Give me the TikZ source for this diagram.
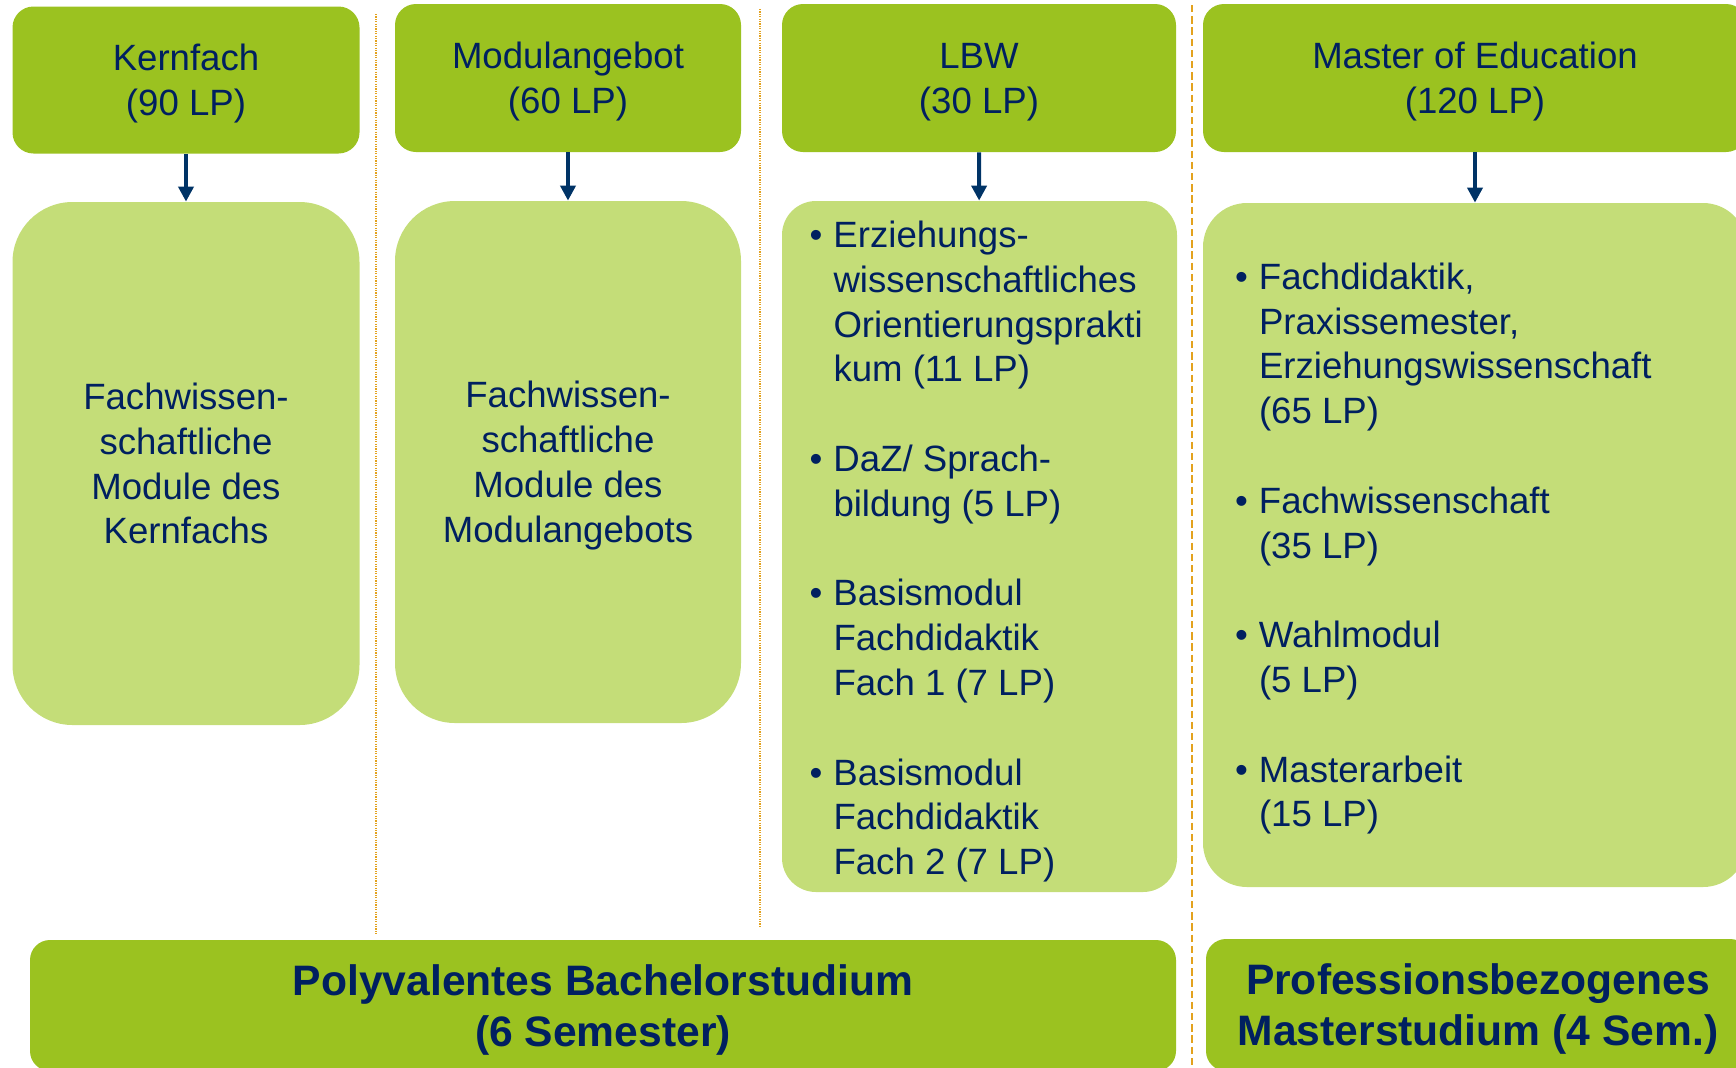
\documentclass[tikz,border=0pt]{standalone}
\usepackage{fontspec}
\setmainfont{Liberation Sans}
\usetikzlibrary{arrows.meta}
\definecolor{kgreen}{RGB}{155,194,32}
\definecolor{lgreen}{RGB}{196,221,120}
\definecolor{navy}{RGB}{0,32,96}
\definecolor{arrownavy}{RGB}{0,51,102}
\definecolor{sepor}{RGB}{227,162,30}
\newcommand{\bul}{\makebox[12pt][l]{\textbullet}}
\newcommand{\ind}{\hspace*{12pt}}
\newcommand{\txtsize}{\fontsize{18.3}{22.4}\selectfont}
\newcommand{\boldsize}{\fontsize{21.3}{25.5}\selectfont\bfseries}

\begin{document}
\begin{tikzpicture}[x=0.5pt,y=0.5pt,yscale=-1,xscale=1,
    headbox/.style={fill=kgreen, rounded corners=10.5pt, text=navy, font=\txtsize, align=center, inner sep=0pt, text height=35.5pt, text depth=0pt},
    modbox/.style={fill=lgreen, text=navy, font=\txtsize, inner sep=0pt},
    footbox/.style={fill=kgreen, rounded corners=10pt, text=navy, font=\boldsize, align=center, inner sep=0pt, text height=40.75pt, text depth=0pt},
    flow/.style={draw=arrownavy, line width=2pt, -{Triangle[width=7.5pt,length=7.5pt]}},
    sepdot/.style={draw=sepor, line width=0.75pt, dash pattern=on 0.6pt off 0.6pt},
    sepdash/.style={draw=sepor, line width=1.3pt, dash pattern=on 3.7pt off 1.9pt}]
\useasboundingbox (0,0) rectangle (1736,1067);
\clip (0,0) rectangle (1736,1067);
%Separators
\draw [sepdot] (376,14) -- (376,935);
\draw [sepdot] (760,9) -- (760,928);
\draw [sepdash] (1192,5) -- (1192,1067);
%Head boxes
\node [headbox, minimum width=173.5pt, minimum height=73.5pt] (kern) at (186,80) {Kernfach\\(90 LP)};
\node [headbox, minimum width=173pt, minimum height=74pt] (modul) at (568,78) {Modulangebot\\(60 LP)};
\node [headbox, minimum width=197pt, minimum height=74pt] (lbw) at (979,78) {LBW\\(30 LP)};
\node [headbox, minimum width=272pt, minimum height=74pt] (master) at (1475,78) {Master of Education\\(120 LP)};
%Module boxes
\node [modbox, rounded corners=30pt, align=center, text height=80.3pt, text depth=0pt, minimum width=173.5pt, minimum height=261.5pt] (kernmods) at (186,463.5) {Fachwissen-\\schaftliche\\Module des\\Kernfachs};
\node [modbox, rounded corners=30pt, align=center, text height=80.3pt, text depth=0pt, minimum width=173pt, minimum height=261pt] (modulmods) at (568,462) {Fachwissen-\\schaftliche\\Module des\\Modulangebots};
\node [modbox, rounded corners=17pt, align=flush left, text width=170pt, text height=14.5pt, text depth=313.6pt, minimum width=197.5pt, minimum height=345.5pt] (lbwmods) at (979.5,546.5)
  {\bul Erziehungs-\\\ind wissenschaftliches\\\ind Orientierungsprakti\\\ind kum (11 LP)\\[22.4pt]%
   \bul DaZ/ Sprach-\\\ind bildung (5 LP)\\[22.4pt]%
   \bul Basismodul\\\ind Fachdidaktik\\\ind Fach 1 (7 LP)\\[22.4pt]%
   \bul Basismodul\\\ind Fachdidaktik\\\ind Fach 2 (7 LP)};
\node [modbox, rounded corners=22pt, align=flush left, text width=240pt, text height=13.1pt, text depth=268.8pt, minimum width=272pt, minimum height=342pt] (mastermods) at (1475,545)
  {\bul Fachdidaktik,\\\ind Praxissemester,\\\ind Erziehungswissenschaft\\\ind (65 LP)\\[22.4pt]%
   \bul Fachwissenschaft\\\ind (35 LP)\\[22.4pt]%
   \bul Wahlmodul\\\ind (5 LP)\\[22.4pt]%
   \bul Masterarbeit\\\ind (15 LP)};
%Arrows
\draw [flow] (kern) -- (kernmods);
\draw [flow] (modul) -- (modulmods);
\draw [flow] (lbw) -- (lbwmods);
\draw [flow] (master) -- (mastermods);
%Footer boxes
\node [footbox, minimum width=573pt, minimum height=65.5pt] (bachelor) at (603,1005.5) {Polyvalentes Bachelorstudium\\(6 Semester)};
\node [footbox, minimum width=272pt, minimum height=66pt] (masterstud) at (1478,1005) {Professionsbezogenes\\Masterstudium (4 Sem.)};
\end{tikzpicture}
\end{document}
